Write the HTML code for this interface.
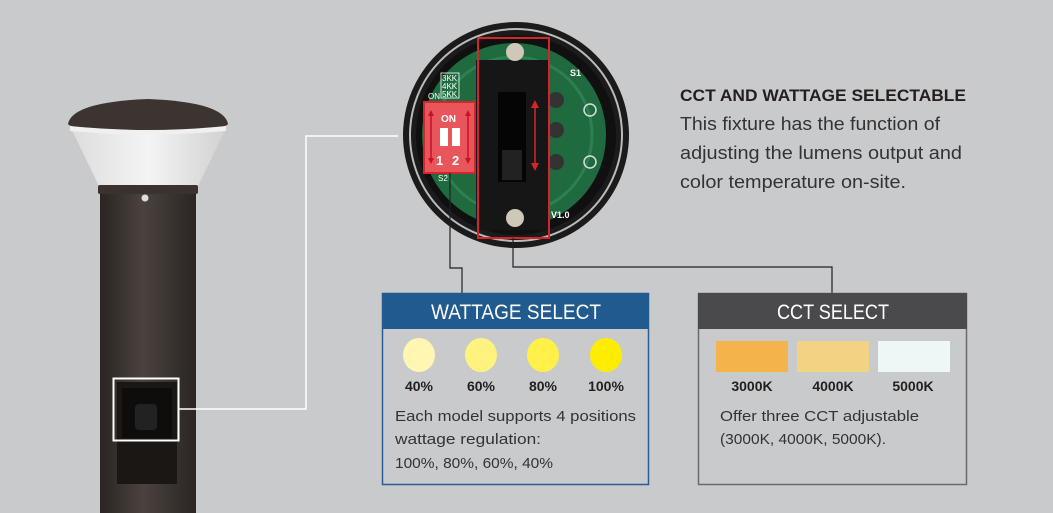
<!DOCTYPE html>
<html><head><meta charset="utf-8"><style>
html,body{margin:0;padding:0;background:#c9cacc;}
svg{display:block;font-family:"Liberation Sans",sans-serif;}
</style></head><body>
<svg width="1053" height="513" viewBox="0 0 1053 513" xmlns="http://www.w3.org/2000/svg">
<defs>
<linearGradient id="pole" x1="0" x2="1"><stop offset="0" stop-color="#2a2522"/><stop offset="0.45" stop-color="#4a423d"/><stop offset="1" stop-color="#2b2623"/></linearGradient>
<linearGradient id="dif" x1="0" x2="1"><stop offset="0" stop-color="#dcdcdc"/><stop offset="0.5" stop-color="#f4f4f4"/><stop offset="1" stop-color="#d0d0d0"/></linearGradient>
</defs>
<rect width="1053" height="513" fill="#c9cacc"/>
<!-- lamp -->
<rect x="100" y="190" width="96" height="323" fill="url(#pole)"/>
<path d="M69 124 L228 124 L198 186 L99 186 Z" fill="url(#dif)"/>
<path d="M68 124 Q72 102 148 99 Q224 102 228 124 Q226 130 148 130 Q70 130 68 124Z" fill="#3b3430"/>
<path d="M70 126 Q148 134 226 126 L226 131 Q148 138 70 131Z" fill="#f0f0f0"/>
<rect x="98" y="185" width="100" height="9" rx="2" fill="#3a322e"/>
<circle cx="145" cy="198" r="3.5" fill="#ddd"/>
<rect x="117" y="382" width="60" height="102" fill="#1a1715"/>
<rect x="122" y="388" width="50" height="50" fill="#0f0d0c"/>
<rect x="135" y="404" width="22" height="26" rx="4" fill="#222"/>
<rect x="113.5" y="378.5" width="65" height="62" fill="none" stroke="#fff" stroke-width="2"/>
<!-- white connector -->
<polyline points="179,409 306,409 306,136 398,136" fill="none" stroke="#fff" stroke-width="1.5"/>
<!-- circle module -->
<circle cx="516" cy="135" r="113" fill="#1b1b1b"/>
<circle cx="516" cy="135" r="106" fill="none" stroke="#bbb" stroke-width="2"/>
<circle cx="516" cy="135" r="100" fill="#101010"/>
<circle cx="514" cy="135" r="92" fill="#1f6a3e"/>
<circle cx="514" cy="135" r="78" fill="none" stroke="#2d8050" stroke-width="3"/>
<rect x="476" y="60" width="74" height="170" fill="#161616"/>
<rect x="498" y="92" width="28" height="90" fill="#050505"/>
<rect x="502" y="150" width="20" height="30" fill="#222"/>
<circle cx="515" cy="52" r="9" fill="#cfc8b8"/>
<circle cx="515" cy="218" r="9" fill="#cfc8b8"/>
<circle cx="556" cy="100" r="8" fill="#333"/><circle cx="556" cy="130" r="8" fill="#333"/><circle cx="556" cy="162" r="8" fill="#333"/>
<circle cx="590" cy="110" r="6" fill="none" stroke="#ddd" stroke-width="1.5"/>
<circle cx="590" cy="162" r="6" fill="none" stroke="#ddd" stroke-width="1.5"/>
<text x="570" y="76" fill="#fff" font-size="9" font-weight="bold">S1</text>
<text x="551" y="218" fill="#fff" font-size="9" font-weight="bold">V1.0</text>
<rect x="441" y="73" width="18" height="25" fill="none" stroke="#fff" stroke-width="0.8"/>
<text x="442" y="81" fill="#fff" font-size="8">3KK</text><text x="442" y="89" fill="#fff" font-size="8">4KK</text><text x="442" y="97" fill="#fff" font-size="8">5KK</text>
<text x="428" y="99" fill="#fff" font-size="8">ON</text>
<text x="438" y="181" fill="#fff" font-size="8">S2</text>
<rect x="424" y="102" width="51" height="71" fill="#e8555b"/>
<text x="441" y="122" fill="#fff" font-size="10" font-weight="bold">ON</text>
<rect x="440" y="128" width="8" height="18" fill="#fff"/><rect x="452" y="128" width="8" height="18" fill="#fff"/>
<text x="436" y="165" fill="#fff" font-size="13" font-weight="bold">1</text><text x="452" y="165" fill="#fff" font-size="13" font-weight="bold">2</text>
<path d="M431 114 V160 M468 114 V160" stroke="#c8102e" stroke-width="1.5"/>
<path d="M431 110 l-3 6 h6z M431 164 l-3 -6 h6z M468 110 l-3 6 h6z M468 164 l-3 -6 h6z" fill="#c8102e"/>
<rect x="424" y="102" width="51" height="71" fill="none" stroke="#d0262c" stroke-width="2"/>
<path d="M535 106 V165" stroke="#d0262c" stroke-width="1.5"/>
<path d="M535 100 l-4 8 h8z M535 171 l-4 -8 h8z" fill="#d0262c"/>
<rect x="478" y="38" width="71" height="200" fill="none" stroke="#d0262c" stroke-width="2"/>
<!-- connectors -->
<polyline points="450,173 450,268 462,268 462,293" fill="none" stroke="#222" stroke-width="1.2"/>
<polyline points="513,238 513,267 832,267 832,293" fill="none" stroke="#222" stroke-width="1.2"/>
<!-- right text -->
<text x="680" y="101" fill="#231f20" font-size="17" font-weight="bold" textLength="286" lengthAdjust="spacingAndGlyphs">CCT AND WATTAGE SELECTABLE</text>
<text x="680" y="130" fill="#333" font-size="18" textLength="260" lengthAdjust="spacingAndGlyphs">This fixture has the function of</text>
<text x="680" y="159" fill="#333" font-size="18" textLength="282" lengthAdjust="spacingAndGlyphs">adjusting the lumens output and</text>
<text x="680" y="188" fill="#333" font-size="18" textLength="226" lengthAdjust="spacingAndGlyphs">color temperature on-site.</text>
<!-- wattage box -->
<rect x="382.5" y="293.5" width="266" height="191" fill="none" stroke="#2a5d93" stroke-width="1.5"/>
<rect x="382" y="293" width="267" height="36" fill="#215a8f"/>
<text x="431" y="319" fill="#fff" font-size="21" textLength="170" lengthAdjust="spacingAndGlyphs">WATTAGE SELECT</text>
<ellipse cx="419" cy="355" rx="16" ry="17" fill="#fff6b2"/>
<ellipse cx="481" cy="355" rx="16" ry="17" fill="#fff27e"/>
<ellipse cx="543" cy="355" rx="16" ry="17" fill="#fff04a"/>
<ellipse cx="606" cy="355" rx="16" ry="17" fill="#ffed00"/>
<g font-size="14" font-weight="bold" fill="#231f20" text-anchor="middle">
<text x="419" y="391">40%</text><text x="481" y="391">60%</text><text x="543" y="391">80%</text><text x="606" y="391">100%</text>
</g>
<g font-size="15" fill="#333">
<text x="395" y="421" textLength="241" lengthAdjust="spacingAndGlyphs">Each model supports 4 positions</text>
<text x="395" y="444" textLength="146" lengthAdjust="spacingAndGlyphs">wattage regulation:</text>
<text x="395" y="468" textLength="158" lengthAdjust="spacingAndGlyphs">100%, 80%, 60%, 40%</text>
</g>
<!-- CCT box -->
<rect x="698.5" y="293.5" width="268" height="191" fill="none" stroke="#6a6a6a" stroke-width="1.5"/>
<rect x="698" y="293" width="269" height="36" fill="#4a4a4c"/>
<text x="777" y="319" fill="#fff" font-size="21" textLength="112" lengthAdjust="spacingAndGlyphs">CCT SELECT</text>
<rect x="716" y="341" width="72" height="31" fill="#f3b44c"/>
<rect x="797" y="341" width="72" height="31" fill="#f2d283"/>
<rect x="878" y="341" width="72" height="31" fill="#eff6f6"/>
<g font-size="14" font-weight="bold" fill="#231f20" text-anchor="middle">
<text x="752" y="391">3000K</text><text x="833" y="391">4000K</text><text x="913" y="391">5000K</text>
</g>
<g font-size="15" fill="#333">
<text x="720" y="421" textLength="199" lengthAdjust="spacingAndGlyphs">Offer three CCT adjustable</text>
<text x="720" y="444" textLength="166" lengthAdjust="spacingAndGlyphs">(3000K, 4000K, 5000K).</text>
</g>
</svg>
</body></html>
